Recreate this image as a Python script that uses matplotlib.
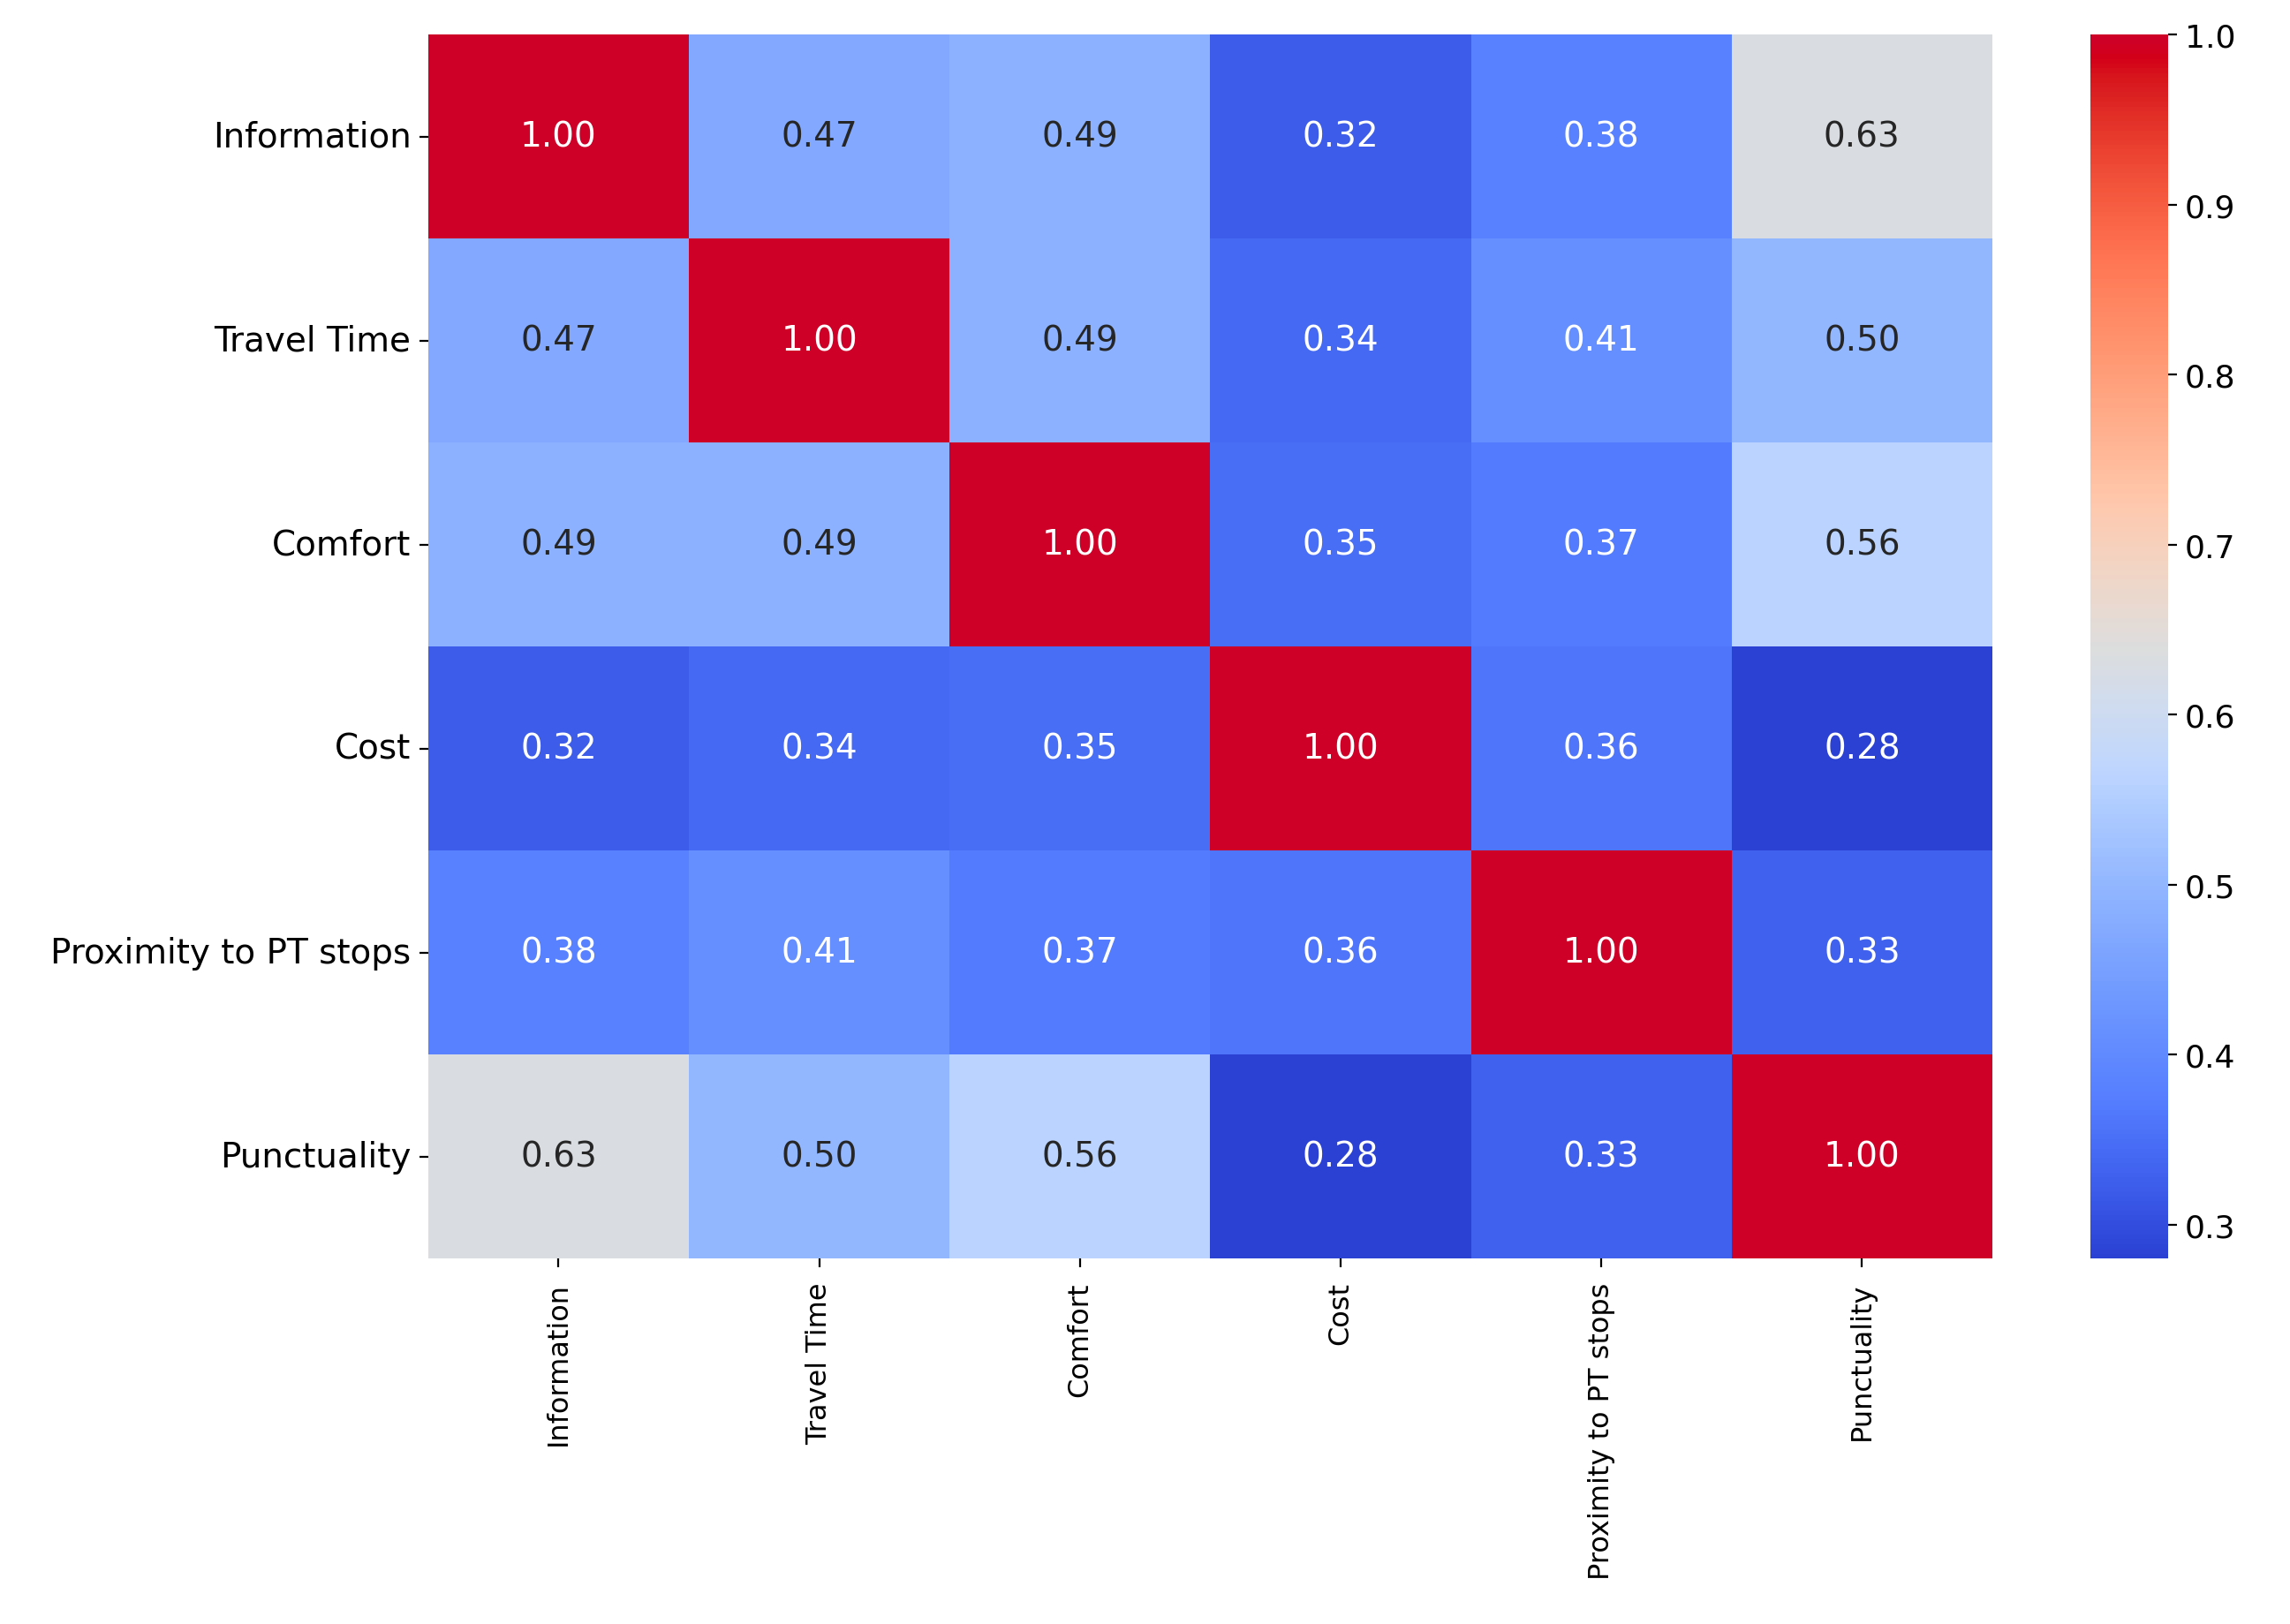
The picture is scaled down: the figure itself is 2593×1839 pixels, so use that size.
import numpy as np
import matplotlib
matplotlib.use("Agg")
import matplotlib.pyplot as plt
import matplotlib.colors as mcolors
import seaborn as sns

# Variables de la matriz de correlación
labels = ["Information", "Travel Time", "Comfort", "Cost",
          "Proximity to PT stops", "Punctuality"]

row_information = [1.00, 0.47, 0.49, 0.32, 0.38, 0.63]
row_travel_time = [0.47, 1.00, 0.49, 0.34, 0.41, 0.50]
row_comfort = [0.49, 0.49, 1.00, 0.35, 0.37, 0.56]
row_cost = [0.32, 0.34, 0.35, 1.00, 0.36, 0.28]
row_proximity = [0.38, 0.41, 0.37, 0.36, 1.00, 0.33]
row_punctuality = [0.63, 0.50, 0.56, 0.28, 0.33, 1.00]

corr = np.array([row_information, row_travel_time, row_comfort,
                 row_cost, row_proximity, row_punctuality])

# coolwarm un poco más saturado, como en la imagen original
base = plt.get_cmap("coolwarm")(np.linspace(0, 1, 256))[:, :3]
hsv = mcolors.rgb_to_hsv(base)
s0 = hsv[:, 1].copy()
hsv[:, 1] = np.clip(s0 * 1.15, 0, 1)
hsv[:, 2] = np.clip(hsv[:, 2] * (1 + 0.15 * s0), 0, 1)
cmap = mcolors.ListedColormap(mcolors.hsv_to_rgb(hsv))

plt.rcParams['font.family'] = ['DejaVu Sans']

fig = plt.figure(figsize=(12.965, 9.2), dpi=200)
ax = fig.add_axes([0.187, 0.225, 0.683, 0.753])
cax = fig.add_axes([0.913, 0.225, 0.0336, 0.753])

sns.heatmap(corr, annot=True, fmt=".2f", cmap=cmap,
            xticklabels=labels, yticklabels=labels,
            ax=ax, cbar_ax=cax, annot_kws={"size": 14})

# color del texto: oscuro en celdas claras, blanco en el resto
for txt, val in zip(ax.texts, corr.flatten()):
    txt.set_color("#262626" if 0.45 <= val <= 0.75 else "white")

ax.tick_params(axis='x', labelsize=11.5, rotation=90, pad=6)
ax.tick_params(axis='y', labelsize=14, rotation=0)
cax.tick_params(labelsize=13)

fig.savefig("out.png", dpi=200)
